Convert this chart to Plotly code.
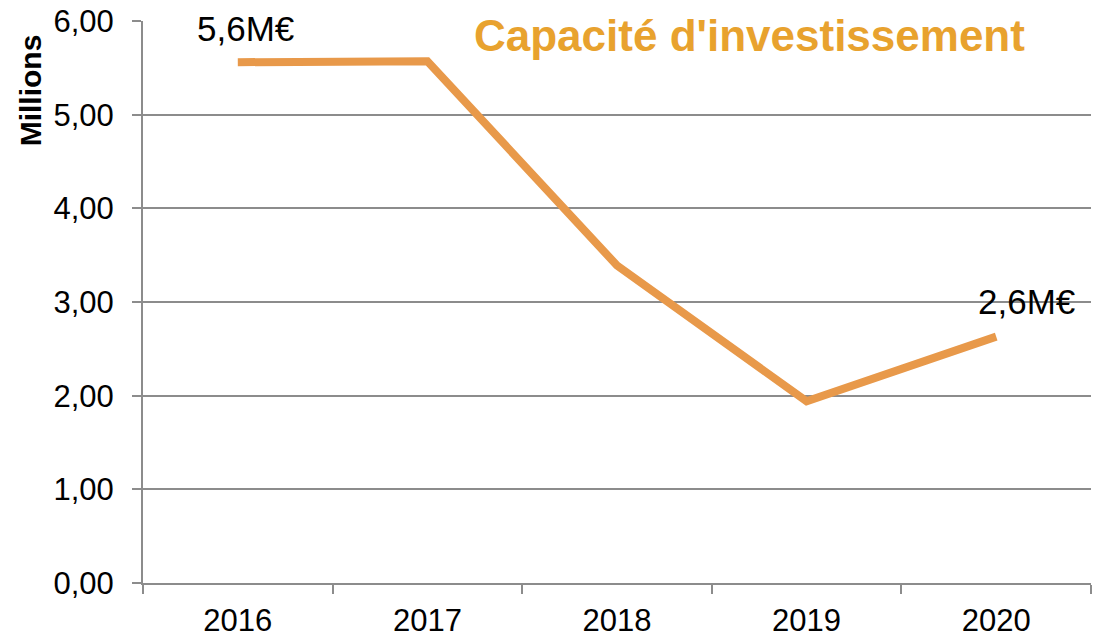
import plotly.graph_objects as go

years = ["2016", "2017", "2018", "2019", "2020"]
values = [5.56, 5.57, 3.39, 1.94, 2.63]
y_ticks = [0, 1, 2, 3, 4, 5, 6]
y_tick_labels = ["0,00", "1,00", "2,00", "3,00", "4,00", "5,00", "6,00"]
labels = {"2016": "5,6M€", "2020": "2,6M€"}

LINE = "#E8994A"
GRID = "#8C8C8C"
FONT = "Liberation Sans, Arial, sans-serif"

fig = go.Figure()
fig.add_trace(go.Scatter(
    x=list(range(len(years))), y=values, mode="lines",
    line=dict(color=LINE, width=8),
    hoverinfo="skip", showlegend=False,
))

label_shift = {"2016": (8, 34), "2020": (30, 35)}
for yr, txt in labels.items():
    i = years.index(yr)
    dx, dy = label_shift[yr]
    fig.add_annotation(x=i, y=values[i], text=txt, showarrow=False,
                       xshift=dx, yshift=dy,
                       font=dict(family=FONT, size=35, color="black"))

fig.add_annotation(xref="paper", yref="paper", x=0.9325, y=0.975,
                   xanchor="right", yanchor="middle",
                   text="<b>Capacité d'investissement</b>", showarrow=False,
                   font=dict(family=FONT, size=44, color="#E8A22E"))

fig.add_annotation(xref="paper", yref="paper", x=-0.119, y=0.877,
                   xanchor="center", yanchor="middle", textangle=-90,
                   text="<b>Millions</b>", showarrow=False,
                   font=dict(family=FONT, size=30, color="black"))

fig.update_layout(
    width=1095, height=637,
    margin=dict(l=143, r=4, t=21, b=54),
    paper_bgcolor="white", plot_bgcolor="white",
    font=dict(family=FONT, color="black"),
)
fig.update_xaxes(
    tickmode="array", tickvals=list(range(len(years))), ticktext=years,
    range=[-0.5, 4.5], automargin=False,
    showline=True, linecolor=GRID, linewidth=2,
    ticks="", showgrid=False, zeroline=False,
    tickfont=dict(size=31, color="black"), ticklabelstandoff=9,
)
fig.update_xaxes(minor=dict(tickvals=[-0.5, 0.5, 1.5, 2.5, 3.5, 4.5], ticks="outside",
                            ticklen=9, tickcolor=GRID, tickwidth=2, showgrid=False))
fig.update_yaxes(
    range=[0, 6], tickvals=y_ticks, ticktext=y_tick_labels, automargin=False,
    showline=True, linecolor=GRID, linewidth=2,
    ticks="outside", ticklen=9, tickcolor=GRID, tickwidth=2,
    showgrid=True, gridcolor=GRID, gridwidth=1.5, zeroline=False,
    tickfont=dict(size=31, color="black"), ticklabelstandoff=12,
    ticklabeloverflow="allow",
)

# remove the default 8px page margin so the figure sits at the window's corner
fig.write_html("out.html", config={"displayModeBar": False},
               post_script="document.body.style.margin='0';")
